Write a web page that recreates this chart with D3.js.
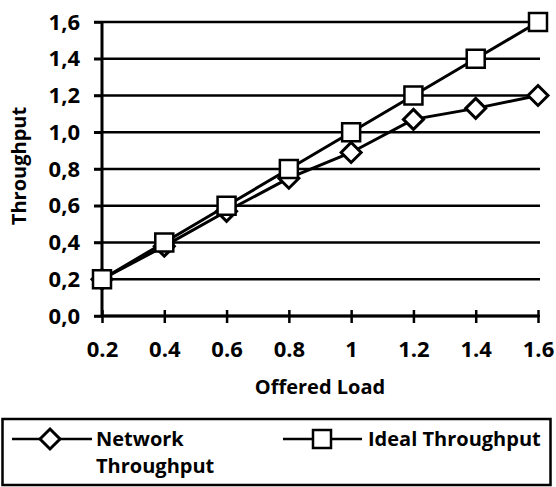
<!DOCTYPE html>
<html>
<head>
<meta charset="utf-8">
<script src="https://d3js.org/d3.v7.min.js"></script>
<style>
  body { margin: 0; background: #fff; }
  svg text { font-family: "Open Sans", Lato, sans-serif; font-weight: 700; fill: #000; }
</style>
</head>
<body>
<svg width="556" height="487"></svg>
<script>
var loads = [0.2, 0.4, 0.6, 0.8, 1.0, 1.2, 1.4, 1.6];
var xLabels = ["0.2", "0.4", "0.6", "0.8", "1", "1.2", "1.4", "1.6"];
var networkThroughput = [0.2, 0.38, 0.57, 0.75, 0.89, 1.07, 1.13, 1.2];
var idealThroughput = [0.2, 0.4, 0.6, 0.8, 1.0, 1.2, 1.4, 1.6];
var yTicks = [0, 0.2, 0.4, 0.6, 0.8, 1.0, 1.2, 1.4, 1.6];

var svg = d3.select("svg"),
    margin = {top: 22, right: 18, bottom: 171, left: 102},
    width = +svg.attr("width") - margin.left - margin.right,
    height = +svg.attr("height") - margin.top - margin.bottom;

var x = d3.scalePoint().domain(loads).range([0, width]),
    y = d3.scaleLinear().domain([0, 1.6]).range([height, 0]);

var g = svg.append("g")
    .attr("transform", "translate(" + margin.left + "," + margin.top + ")");

// gridlines
g.selectAll(".grid")
    .data(yTicks)
    .enter().append("line")
      .attr("x1", -8)
      .attr("x2", width + 2)
      .attr("y1", function(d) { return y(d); })
      .attr("y2", function(d) { return y(d); })
      .style("stroke", "#000")
      .style("stroke-width", 2.5);

// y axis
var yAxis = g.append("g")
    .call(d3.axisLeft(y).tickValues(yTicks).tickSize(8).tickPadding(14)
      .tickFormat(function(d) { return d3.format(".1f")(d).replace(".", ","); }));
yAxis.select(".domain").style("stroke-width", 3).attr("d", "M0," + y(1.6) + "V" + y(0));
yAxis.selectAll(".tick line").style("stroke-width", 2.5);
yAxis.selectAll("text").style("font-size", "22px");

// x axis
var xAxis = g.append("g")
    .attr("transform", "translate(0," + height + ")")
    .call(d3.axisBottom(x).tickSize(6).tickPadding(19)
      .tickFormat(function(d, i) { return xLabels[i]; }));
xAxis.select(".domain").attr("d", "M0,0H" + width).style("stroke-width", 3);
xAxis.selectAll(".tick line").attr("y1", -6).attr("y2", 7).style("stroke-width", 2.5);
xAxis.selectAll("text").style("font-size", "22px");

// axis titles
svg.append("text")
    .attr("transform", "translate(26," + 166 + ") rotate(-90)")
    .style("text-anchor", "middle")
    .style("font-size", "20px")
    .text("Throughput");

svg.append("text")
    .attr("x", margin.left + width / 2)
    .attr("y", 394)
    .style("text-anchor", "middle")
    .style("font-size", "20px")
    .text("Offered Load");

var line = d3.line()
    .x(function(d, i) { return x(loads[i]); })
    .y(function(d) { return y(d); });

var diamond = "M0,-10L10,0L0,10L-10,0Z";

// Network throughput
g.append("path")
    .datum(networkThroughput)
    .attr("d", line)
    .style("fill", "none")
    .style("stroke", "#000")
    .style("stroke-width", 3);

g.selectAll(".diamond")
    .data(networkThroughput)
    .enter().append("path")
      .attr("class", "diamond")
      .attr("d", diamond)
      .attr("transform", function(d, i) { return "translate(" + x(loads[i]) + "," + y(d) + ")"; })
      .style("fill", "#fff")
      .style("stroke", "#000")
      .style("stroke-width", 3);

// Ideal throughput
g.append("path")
    .datum(idealThroughput)
    .attr("d", line)
    .style("fill", "none")
    .style("stroke", "#000")
    .style("stroke-width", 3);

g.selectAll(".square")
    .data(idealThroughput)
    .enter().append("rect")
      .attr("class", "square")
      .attr("x", function(d, i) { return x(loads[i]) - 9; })
      .attr("y", function(d) { return y(d) - 9; })
      .attr("width", 18)
      .attr("height", 18)
      .style("fill", "#fff")
      .style("stroke", "#000")
      .style("stroke-width", 2.5);

// legend
var legend = svg.append("g");
legend.append("rect")
    .attr("x", 2.5).attr("y", 419)
    .attr("width", 548).attr("height", 66)
    .style("fill", "#fff")
    .style("stroke", "#000")
    .style("stroke-width", 2.5);

legend.append("line")
    .attr("x1", 12).attr("x2", 92).attr("y1", 439).attr("y2", 439)
    .style("stroke", "#000").style("stroke-width", 2.5);
legend.append("path")
    .attr("d", diamond)
    .attr("transform", "translate(50,439)")
    .style("fill", "#fff").style("stroke", "#000").style("stroke-width", 3);
legend.append("text")
    .attr("x", 96).attr("y", 446)
    .style("font-size", "20px")
    .text("Network");
legend.append("text")
    .attr("x", 96).attr("y", 473)
    .style("font-size", "20px")
    .text("Throughput");

legend.append("line")
    .attr("x1", 283).attr("x2", 362).attr("y1", 439).attr("y2", 439)
    .style("stroke", "#000").style("stroke-width", 2.5);
legend.append("rect")
    .attr("x", 313).attr("y", 430).attr("width", 18).attr("height", 18)
    .style("fill", "#fff").style("stroke", "#000").style("stroke-width", 2.5);
legend.append("text")
    .attr("x", 368).attr("y", 446)
    .style("font-size", "20px")
    .text("Ideal Throughput");
</script>
</body>
</html>
